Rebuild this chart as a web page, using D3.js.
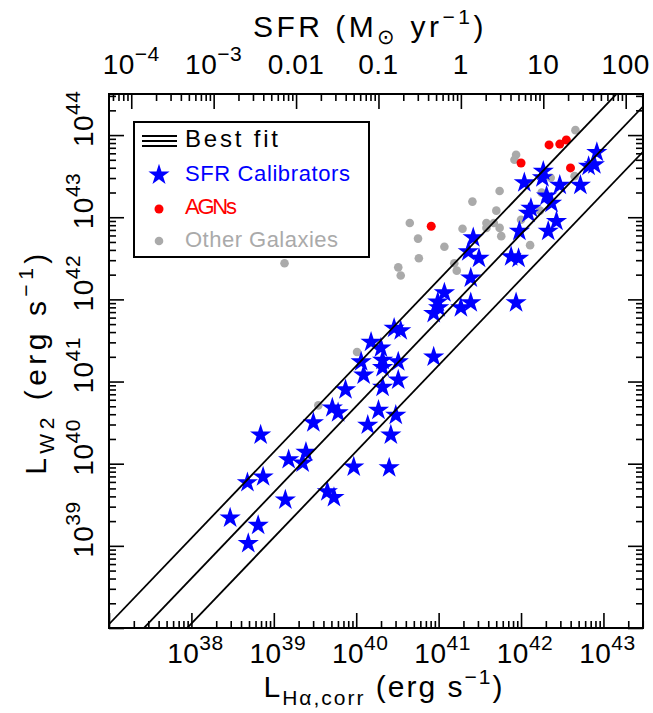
<!DOCTYPE html>
<html><head><meta charset="utf-8">
<script src="https://cdn.jsdelivr.net/npm/d3@7"></script>
<style>
body{margin:0;background:#fff}
text{font-family:"Liberation Sans",Arial,Helvetica,sans-serif}
</style>
</head><body>
<svg id="chart" width="653" height="713"></svg>
<script>
// ---------------- data (log10 of luminosity, erg/s) ----------------
const starLogLHa = [42.92,42.89,42.82,42.27,42.26,42.04,42.47,42.72,42.31,42.37,42.12,42.09,42.43,42.33,41.98,41.88,41.97,41.94,41.42,41.36,41.49,41.39,41.07,40.99,40.94,41.00,41.27,41.39,40.94,40.46,40.54,40.18,40.30,40.06,40.32,40.51,40.09,40.32,40.51,40.32,39.87,39.71,39.78,39.48,40.27,40.48,40.14,40.42,39.39,39.18,39.35,39.97,40.40,38.87,38.68,39.65,39.73,39.14,38.47,38.81,38.69,38.84];
const starLogLW2 = [43.79,43.64,43.62,43.56,43.48,43.42,43.39,43.39,43.26,43.17,43.11,43.05,42.95,42.83,42.83,42.52,42.50,41.96,42.75,42.58,42.50,42.26,42.08,41.97,41.83,41.90,41.90,41.96,41.30,41.65,41.62,41.48,41.41,41.24,41.26,41.24,41.08,41.17,41.02,40.93,40.90,40.68,40.62,40.50,40.65,40.59,40.47,40.35,40.14,40.05,40.01,39.96,39.95,39.84,39.77,39.66,39.59,39.56,39.34,39.25,39.03,40.35];
const agnLogLHa = [40.91,42.00,42.34,42.47,42.55,42.60];
const agnLogLW2 = [42.89,43.66,43.88,43.89,43.94,43.60];
const otherLogLHa = [39.13,40.65,40.75,40.76,40.51,40.54,41.07,41.19,41.22,41.29,41.41,41.58,41.67,41.58,41.74,41.76,41.70,41.74,42.00,42.11,42.25,42.66,41.94,41.92,42.65,42.36,40.01,39.54,42.23];
const otherLogLW2 = [42.44,42.93,42.74,42.50,42.39,42.29,42.64,42.44,42.35,42.86,43.19,42.93,42.93,42.87,42.87,42.77,43.08,43.32,42.97,42.66,43.30,44.06,43.76,43.70,43.50,43.48,41.36,40.71,43.08];
// best fit: log L_W2 = c + slope*(log L_Ha - pivot), three lines
const fitSlope = 1.048;
const fitPivot = 40;
const fitIntercepts = [41.19, 40.70, 40.15];
// axes
const xLogDomain = [37, 43.48];
const yLogDomain = [38, 44.5];
const xLabelExps = [38,39,40,41,42,43];
const yLabelExps = [39,40,41,42,43,44];
const sfrLogZero = 41.27;           // log L_Ha where SFR = 1 Msun/yr
const sfrTickValues = [1e-4,1e-3,0.01,0.1,1,10,100];
const sfrTickBase = ["10","10","0.01","0.1","1","10","100"];
const sfrTickSup  = ["\u22124","\u22123","","","","",""];
const legendLabels = ["Best fit","SFR Calibrators","AGNs","Other Galaxies"];

// ---------------- setup ----------------
const svg = d3.select("#chart");
const L=109, R=643, T=94, B=628;
const x = d3.scaleLog().domain(xLogDomain.map(v=>10**v)).range([L,R]);
const y = d3.scaleLog().domain(yLogDomain.map(v=>10**v)).range([B,T]);
const sfr = d3.scaleLog().domain(xLogDomain.map(v=>10**(v-sfrLogZero))).range([L,R]);

function majors(lo,hi){const o=[];for(let e=Math.ceil(lo-1e-9);e<=Math.floor(hi+1e-9);e++)o.push(10**e);return o;}
function minors(lo,hi){const o=[];for(let e=Math.floor(lo);e<=Math.ceil(hi);e++)for(let k=2;k<=9;k++){const v=k*10**e;const lv=Math.log10(v);if(lv>lo&&lv<hi)o.push(v);}return o;}

const black="#000";
svg.append("clipPath").attr("id","clip").append("rect")
  .attr("x",L).attr("y",T).attr("width",R-L).attr("height",B-T);

// ---------------- points ----------------
const gPts = svg.append("g");
gPts.selectAll("circle.other").data(otherLogLHa).join("circle")
  .attr("class","other")
  .attr("cx",d=>x(10**d)).attr("cy",(d,i)=>y(10**otherLogLW2[i])).attr("r",4.3)
  .attr("fill","#aaaaaa");
gPts.selectAll("circle.agn").data(agnLogLHa).join("circle")
  .attr("class","agn")
  .attr("cx",d=>x(10**d)).attr("cy",(d,i)=>y(10**agnLogLW2[i])).attr("r",4.5)
  .attr("fill","#ff0000");
const star = d3.symbol(d3.symbolStar, 140);
gPts.selectAll("path.star").data(starLogLHa).join("path")
  .attr("class","star")
  .attr("d",star)
  .attr("transform",(d,i)=>`translate(${x(10**d)},${y(10**starLogLW2[i])})`)
  .attr("fill","#0000ff");

// ---------------- fit lines ----------------
const line = d3.line().x(d=>x(10**d[0])).y(d=>y(10**d[1]));
svg.append("g").attr("clip-path","url(#clip)")
  .selectAll("path").data(fitIntercepts).join("path")
  .attr("d",c=>line(xLogDomain.map(lx=>[lx, c+fitSlope*(lx-fitPivot)])))
  .attr("fill","none").attr("stroke",black).attr("stroke-width",1.8);

// ---------------- axes ----------------
function styleAxis(g){g.select(".domain").remove();g.selectAll("line").attr("stroke",black).attr("stroke-width",1.6);g.selectAll("text").remove();}
const MAJ=15, MIN=7;
svg.append("g").attr("transform",`translate(0,${B})`).call(d3.axisBottom(x).tickValues(majors(...xLogDomain)).tickSize(-MAJ).tickSizeOuter(0)).call(styleAxis);
svg.append("g").attr("transform",`translate(0,${B})`).call(d3.axisBottom(x).tickValues(minors(...xLogDomain)).tickSize(-MIN).tickSizeOuter(0)).call(styleAxis);
const sfrLog=[xLogDomain[0]-sfrLogZero,xLogDomain[1]-sfrLogZero];
svg.append("g").attr("transform",`translate(0,${T})`).call(d3.axisTop(sfr).tickValues(sfrTickValues).tickSize(-MAJ).tickSizeOuter(0)).call(styleAxis);
svg.append("g").attr("transform",`translate(0,${T})`).call(d3.axisTop(sfr).tickValues(minors(...sfrLog)).tickSize(-MIN).tickSizeOuter(0)).call(styleAxis);
svg.append("g").attr("transform",`translate(${L},0)`).call(d3.axisLeft(y).tickValues(majors(...yLogDomain)).tickSize(-MAJ).tickSizeOuter(0)).call(styleAxis);
svg.append("g").attr("transform",`translate(${L},0)`).call(d3.axisLeft(y).tickValues(minors(...yLogDomain)).tickSize(-MIN).tickSizeOuter(0)).call(styleAxis);
svg.append("g").attr("transform",`translate(${R},0)`).call(d3.axisRight(y).tickValues(majors(...yLogDomain)).tickSize(-MAJ).tickSizeOuter(0)).call(styleAxis);
svg.append("g").attr("transform",`translate(${R},0)`).call(d3.axisRight(y).tickValues(minors(...yLogDomain)).tickSize(-MIN).tickSizeOuter(0)).call(styleAxis);

svg.append("rect").attr("x",L).attr("y",T).attr("width",R-L).attr("height",B-T)
  .attr("fill","none").attr("stroke",black).attr("stroke-width",2);

// ---------------- tick labels ----------------
const FS=28, SUP=21, SUPDY=-13;
svg.append("g").selectAll("text").data(xLabelExps).join("text")
  .attr("x",e=>x(10**e)+4).attr("y",663).attr("text-anchor","middle").attr("font-size",FS).attr("letter-spacing",0.5)
  .each(function(e){const t=d3.select(this);t.append("tspan").text("10");t.append("tspan").attr("font-size",SUP).attr("dy",SUPDY).text(e);});
svg.append("g").selectAll("text").data(sfrTickValues).join("text")
  .attr("x",v=>sfr(v)).attr("y",74).attr("text-anchor","middle").attr("font-size",FS).attr("letter-spacing",0.5)
  .each(function(v,i){const t=d3.select(this);t.append("tspan").text(sfrTickBase[i]);if(sfrTickSup[i])t.append("tspan").attr("font-size",SUP).attr("dy",SUPDY).text(sfrTickSup[i]);});
svg.append("g").selectAll("text").data(yLabelExps).join("text")
  .attr("transform",e=>`translate(93,${y(10**e)}) rotate(-90)`)
  .attr("x",-12).attr("y",0).attr("font-size",FS).attr("letter-spacing",0.5)
  .each(function(e){const t=d3.select(this);t.append("tspan").text("10");t.append("tspan").attr("font-size",SUP).attr("dy",SUPDY).text(e);});

// ---------------- axis titles ----------------
const TF=30, SF=21;
function title(t, main, sub, sup){
  t.append("tspan").text(main);
  t.append("tspan").attr("font-size",SF).attr("dy",8).text(sub);
  t.append("tspan").attr("dy",-8).text(" (erg s");
  t.append("tspan").attr("font-size",SF).attr("dy",-13).text(sup);
  t.append("tspan").attr("dy",13).text(")");
}
svg.append("text").attr("x",384).attr("y",697).attr("text-anchor","middle").attr("font-size",TF)
  .attr("letter-spacing",2).call(t=>title(t,"L","H\u03b1,corr","\u22121"));
svg.append("text").attr("transform","translate(46,362) rotate(-90)").attr("text-anchor","middle").attr("font-size",TF)
  .attr("letter-spacing",4.5).call(t=>title(t,"L","W2","\u22121"));
svg.append("text").attr("x",370).attr("y",37).attr("text-anchor","middle").attr("font-size",TF).attr("letter-spacing",3.5)
  .call(t=>{t.append("tspan").text("SFR (M");t.append("tspan").attr("font-size",SF).attr("dy",7).text("\u2299");
    t.append("tspan").attr("dy",-7).text(" yr");t.append("tspan").attr("font-size",SF).attr("dy",-13).text("\u22121");
    t.append("tspan").attr("dy",13).text(")");});

// ---------------- legend ----------------
const lg = svg.append("g");
lg.append("rect").attr("x",134).attr("y",122).attr("width",235).attr("height",135)
  .attr("fill","#fff").attr("stroke",black).attr("stroke-width",2);
[136,141,146].forEach(yy=>lg.append("line").attr("x1",142).attr("x2",177).attr("y1",yy).attr("y2",yy).attr("stroke",black).attr("stroke-width",1.8));
lg.append("path").attr("d",star).attr("transform","translate(159,175)").attr("fill","#0000ff");
lg.append("circle").attr("cx",159).attr("cy",209).attr("r",4.5).attr("fill","#ff0000");
lg.append("circle").attr("cx",159).attr("cy",241).attr("r",4.3).attr("fill","#aaaaaa");
const legColors=[black,"#0000ff","#ff0000","#aaaaaa"];
const legBase=[147,181,214,247];
const legLen=[93,165,52,153];
const legSize=[24,22,22,22];
lg.selectAll("text").data(legendLabels).join("text")
  .attr("x",185).attr("y",(d,i)=>legBase[i]).attr("font-size",(d,i)=>legSize[i])
  .attr("fill",(d,i)=>legColors[i]).attr("textLength",(d,i)=>legLen[i]).attr("lengthAdjust","spacing")
  .text(d=>d);
</script>
</body></html>
